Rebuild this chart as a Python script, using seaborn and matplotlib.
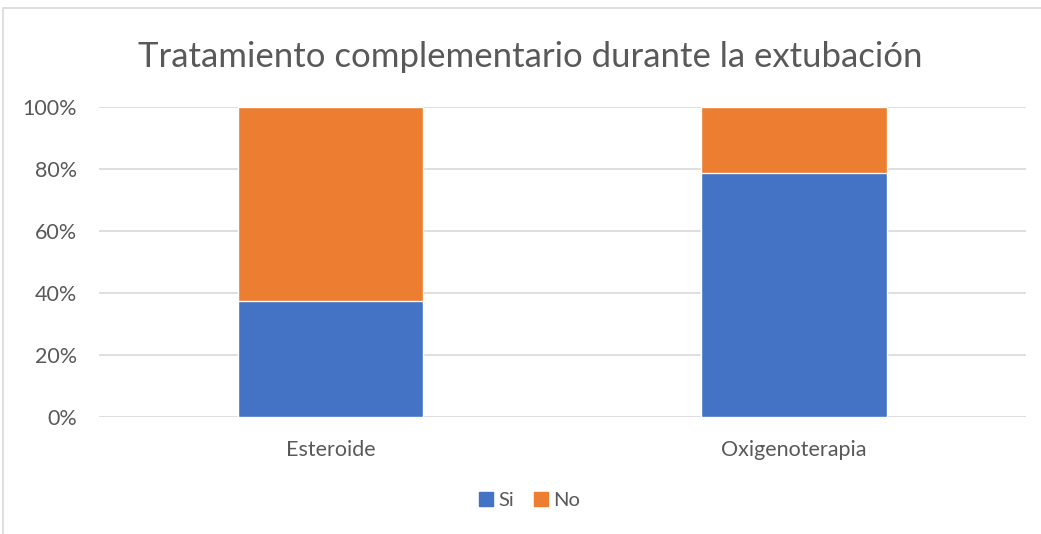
import pandas as pd
import seaborn as sns
import matplotlib.pyplot as plt
from matplotlib.patches import Patch, Rectangle
from matplotlib.ticker import FuncFormatter

# datos (porcentajes)
categorias = ['Esteroide', 'Oxigenoterapia']
si = [37.5, 78.6]
no = [62.5, 21.4]

df = pd.DataFrame({'categoria': categorias, 'Si': si, 'No': no})
df['total'] = df['Si'] + df['No']

azul = '#4472C4'
naranja = '#ED7D31'
gris = '#595959'

sns.set_theme(style='white')
plt.rcParams['font.family'] = ['Lato', 'DejaVu Sans']

fig = plt.figure(figsize=(10.41, 5.34), dpi=100)
ax = fig.add_axes([0.0951, 0.220, 0.8902, 0.5793])

# apilado: primero el total (No encima), luego Si
sns.barplot(data=df, x='categoria', y='total', color=naranja, width=0.4,
            saturation=1, ax=ax, zorder=2)
sns.barplot(data=df, x='categoria', y='Si', color=azul, width=0.4,
            saturation=1, ax=ax, zorder=3)

ax.set_ylim(0, 100)
ax.set_xlim(-0.5, 1.5)
ax.set_yticks(range(0, 101, 20))
ax.yaxis.set_major_formatter(FuncFormatter(lambda v, p: f'{int(v)}%'))
ax.grid(axis='y', color='#d9d9d9', lw=1.2, zorder=0)
ax.set_axisbelow(True)
for s in ax.spines.values():
    s.set_visible(False)
ax.set_xlabel('')
ax.set_ylabel('')
ax.tick_params(axis='y', labelsize=15.5, labelcolor=gris, length=0, pad=16)
ax.tick_params(axis='x', labelsize=15.5, labelcolor=gris, length=0, pad=17)

fig.text(0.509, 0.893, 'Tratamiento complementario durante la extubación',
         ha='center', va='center', fontsize=25, color=gris, fontweight='normal')

handles = [Patch(color=azul, label='Si'), Patch(color=naranja, label='No')]
fig.legend(handles=handles, loc='center', bbox_to_anchor=(0.509, 0.063), ncol=2,
           frameon=False, fontsize=14.5, labelcolor=gris, handlelength=0.7,
           handleheight=0.7, handletextpad=0.25, columnspacing=1.0)

# marco del gráfico
fig.patches.append(Rectangle((0.003, -0.05), 1.2, 1.035, transform=fig.transFigure,
                             fill=False, edgecolor='#d9d9d9', lw=1.2))

fig.savefig('out.png', dpi=100)
